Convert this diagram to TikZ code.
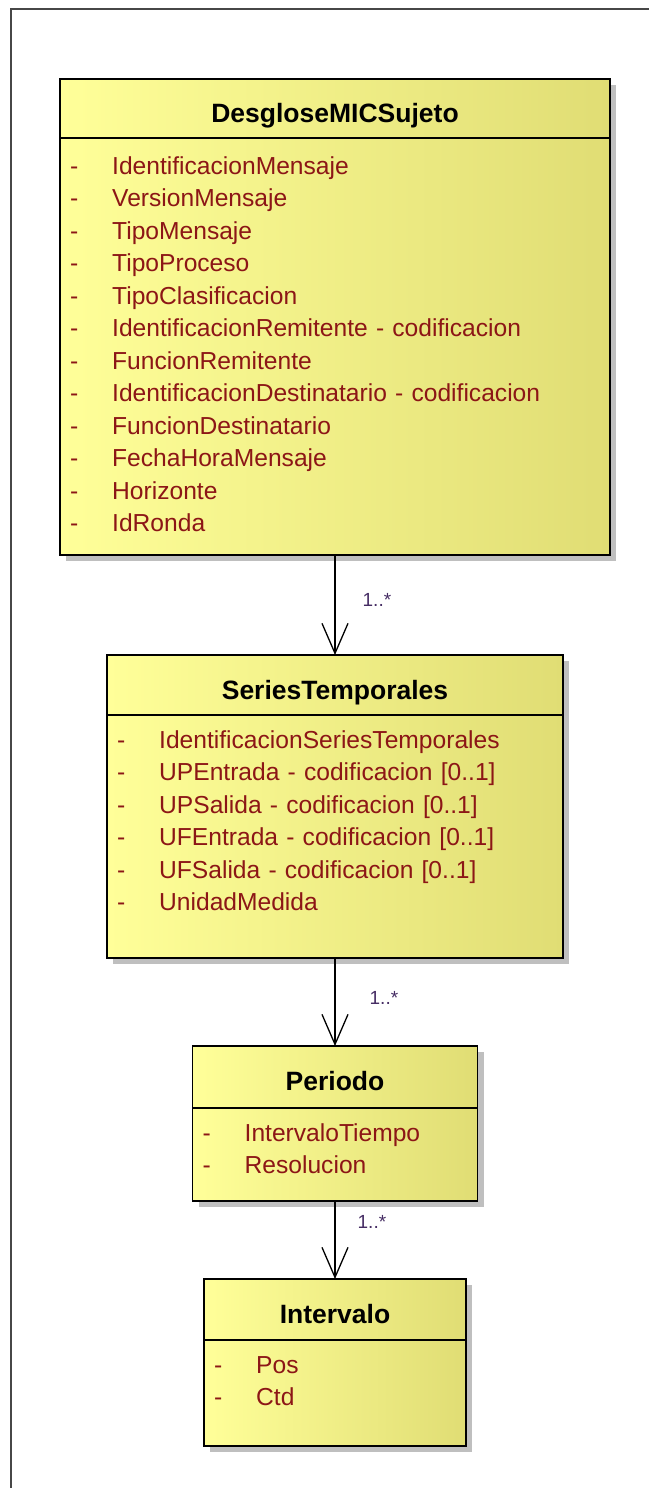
\documentclass[tikz,border=0pt]{standalone}
\usepackage{fontspec}
\setmainfont{Liberation Sans}
\usepackage{tikz}
\usetikzlibrary{shapes,arrows.meta,positioning,shadows}

\definecolor{classleft}{RGB}{255,255,153}
\definecolor{classmid}{RGB}{247,245,150}
\definecolor{classright}{RGB}{224,221,116}
\definecolor{attrred}{RGB}{140,22,22}
\definecolor{multblue}{RGB}{70,45,100}
\newcommand{\attr}[1]{\makebox[42pt][l]{-}#1}

\begin{document}
\begin{tikzpicture}[>={Straight Barb[length=30pt,width=26pt]},
    classbox/.style={rectangle, draw=black, line width=1.5pt, outer sep=0pt, inner sep=0pt,
        left color=classleft, middle color=classmid, right color=classright,
        drop shadow={shadow xshift=6pt, shadow yshift=-6pt, fill=black!25, opacity=1}},
    classname/.style={anchor=base, inner sep=0pt, font=\bfseries\fontsize{26.5pt}{30pt}\selectfont},
    attrs/.style={anchor=base west, inner sep=0pt, align=left, text=attrred,
        font=\fontsize{24.6pt}{32.5pt}\selectfont},
    divider/.style={line width=1.5pt},
    mult/.style={inner sep=0pt, text=multblue, font=\fontsize{19pt}{22pt}\selectfont}]
    \useasboundingbox (0pt,0pt) rectangle (649pt,-1488pt);
    \draw[black!72, line width=2pt] (10.5pt,-1488pt) -- (10.5pt,-9pt) -- (649pt,-9pt);

    % classes
    \node (sujeto) [classbox, minimum width=550pt, minimum height=476pt] at (335pt,-317pt) {};
    \node (series) [classbox, minimum width=456pt, minimum height=303pt, below of=sujeto, node distance=489.5pt] {};
    \node (periodo) [classbox, minimum width=285pt, minimum height=155pt, below of=series, node distance=317pt] {};
    \node (intervalo) [classbox, minimum width=262pt, minimum height=167pt, below of=periodo, node distance=239pt] {};

    \node (sujetoName) [classname] at ([yshift=-43pt]sujeto.north) {DesgloseMICSujeto};
    \node (seriesName) [classname] at ([yshift=-44pt]series.north) {SeriesTemporales};
    \node (periodoName) [classname] at ([yshift=-44pt]periodo.north) {Periodo};
    \node (intervaloName) [classname] at ([yshift=-44pt]intervalo.north) {Intervalo};

    \draw[divider] ([yshift=-59pt]sujeto.north west) -- ([yshift=-59pt]sujeto.north east);
    \draw[divider] ([yshift=-60pt]series.north west) -- ([yshift=-60pt]series.north east);
    \draw[divider] ([yshift=-62pt]periodo.north west) -- ([yshift=-62pt]periodo.north east);
    \draw[divider] ([yshift=-61pt]intervalo.north west) -- ([yshift=-61pt]intervalo.north east);

    \node (sujetoAttrs) [attrs, text width=530pt] at ([xshift=10pt,yshift=-95pt]sujeto.north west) {%
        \attr{IdentificacionMensaje}\\ \attr{VersionMensaje}\\ \attr{TipoMensaje}\\
        \attr{TipoProceso}\\ \attr{TipoClasificacion}\\
        \attr{IdentificacionRemitente - codificacion}\\ \attr{FuncionRemitente}\\
        \attr{IdentificacionDestinatario - codificacion}\\ \attr{FuncionDestinatario}\\
        \attr{FechaHoraMensaje}\\ \attr{Horizonte}\\ \attr{IdRonda}};
    \node (seriesAttrs) [attrs, text width=436pt] at ([xshift=10pt,yshift=-93pt]series.north west) {%
        \attr{IdentificacionSeriesTemporales}\\ \attr{UPEntrada - codificacion [0..1]}\\
        \attr{UPSalida - codificacion [0..1]}\\ \attr{UFEntrada - codificacion [0..1]}\\
        \attr{UFSalida - codificacion [0..1]}\\ \attr{UnidadMedida}};
    \node (periodoAttrs) [attrs, text width=265pt] at ([xshift=10pt,yshift=-95pt]periodo.north west) {%
        \attr{IntervaloTiempo}\\ \attr{Resolucion}};
    \node (intervaloAttrs) [attrs, text width=242pt] at ([xshift=10pt,yshift=-94pt]intervalo.north west) {%
        \attr{Pos}\\ \attr{Ctd}};

    % associations
    \draw[->, line width=1.3pt] (sujeto) -- (sujeto |- series.north)
        node (multSeries) [mult, pos=0.45, right=27pt] {1..*};
    \draw[->, line width=1.3pt] (series) -- (series |- periodo.north)
        node (multPeriodo) [mult, pos=0.45, right=34pt] {1..*};
    \draw[->, line width=1.3pt] (periodo) -- (periodo |- intervalo.north)
        node (multIntervalo) [mult, pos=0.27, right=22pt] {1..*};
\end{tikzpicture}
\end{document}
